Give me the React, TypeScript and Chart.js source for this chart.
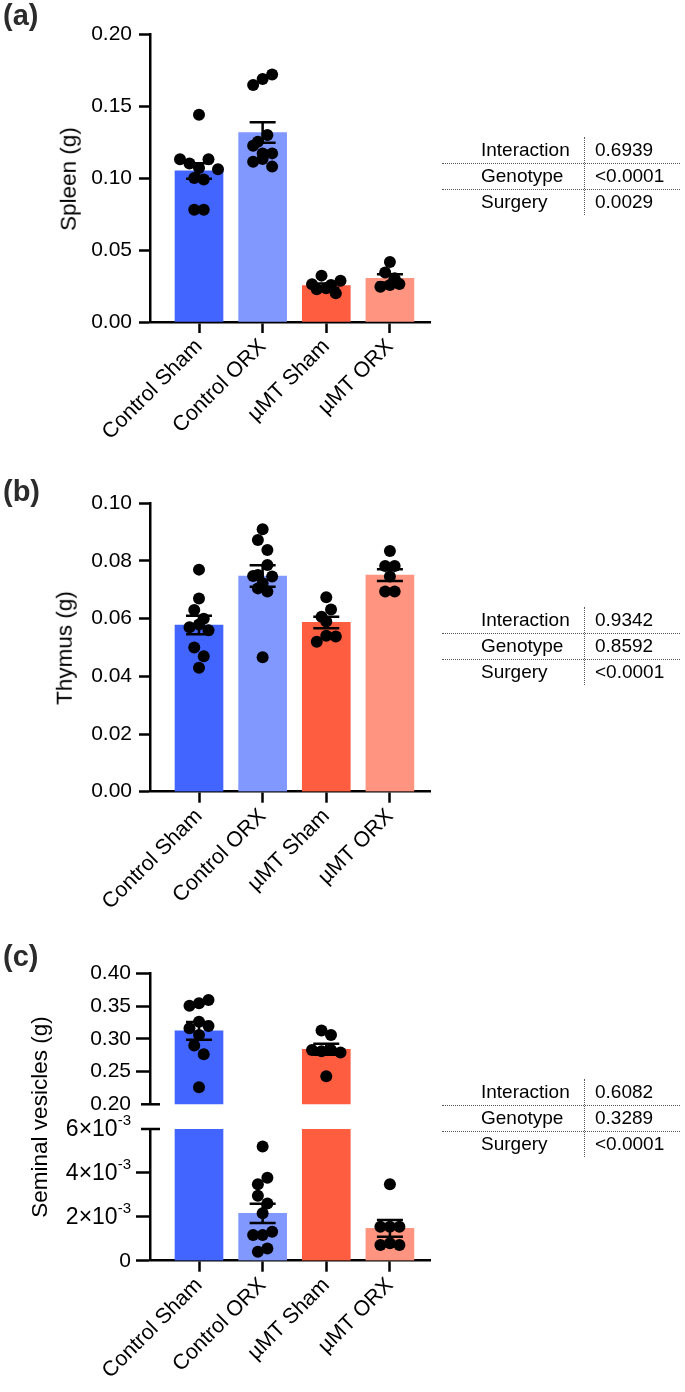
import React, { useEffect, useRef } from "react";
import { Chart, registerables } from "chart.js";
Chart.register(...registerables);

const FONT = "'Liberation Sans', Arial, Helvetica, sans-serif";

const groupLabels = ["Control Sham", "Control ORX", "µMT Sham", "µMT ORX"];
const groupColors = ["#4265FF", "#8098FF", "#FF5D40", "#FF9480"];

// (a) Spleen
const spleenMean = [0.1049, 0.1316, 0.0253, 0.0303];
const spleenSem = [0.0054, 0.0071, 0.0015, 0.0028];
const spleenCtrlSham = [0.144, 0.113, 0.11, 0.107, 0.113, 0.106, 0.1, 0.099, 0.078, 0.078];
const spleenCtrlOrx = [0.1646, 0.1688, 0.1718, 0.1252, 0.1299, 0.1224, 0.1171, 0.1171, 0.1113, 0.1132, 0.1079];
const spleenMuSham = [0.0227, 0.0262, 0.0322, 0.0234, 0.0257, 0.0287, 0.0199];
const spleenMuOrx = [0.0343, 0.0245, 0.0417, 0.0303, 0.0257, 0.0264];
const spleenTicks = [0, 0.05, 0.1, 0.15, 0.2];
const spleenTickLabels = ["0.00", "0.05", "0.10", "0.15", "0.20"];

// (b) Thymus
const thymusMean = [0.0578, 0.0748, 0.0587, 0.0751];
const thymusSem = [0.0032, 0.0037, 0.002, 0.002];
const thymusCtrlSham = [0.077, 0.067, 0.063, 0.06, 0.057, 0.058, 0.056, 0.05, 0.047, 0.043];
const thymusCtrlOrx = [0.091, 0.0873, 0.0838, 0.0751, 0.0786, 0.0748, 0.0723, 0.0746, 0.0705, 0.0694, 0.0466];
const thymusMuSham = [0.0607, 0.0674, 0.0632, 0.059, 0.052, 0.0541, 0.0538];
const thymusMuOrx = [0.0783, 0.0835, 0.0783, 0.0746, 0.0694, 0.0694];
const thymusTicks = [0, 0.02, 0.04, 0.06, 0.08, 0.1];
const thymusTickLabels = ["0.00", "0.02", "0.04", "0.06", "0.08", "0.10"];

// (c) Seminal vesicles (broken axis)
const vesMean = [0.312, 0.00216, 0.284, 0.00147];
const vesSem = [0.0135, 0.00044, 0.0085, 0.00038];
const vesCtrlSham = [0.3506, 0.3542, 0.3593, 0.316, 0.3262, 0.3196, 0.3059, 0.2896, 0.2763, 0.226];
const vesCtrlOrx = [0.00348, 0.0052, 0.00378, 0.00296, 0.00261, 0.00216, 0.00117, 0.00117, 0.00132, 0.00041, 0.00056];
const vesMuSham = [0.3125, 0.3059, 0.283, 0.281, 0.283, 0.279, 0.243];
const vesMuOrx = [0.00348, 0.00155, 0.00155, 0.00155, 0.00071, 0.00079, 0.00071];
const vesUpperTicks = [0.2, 0.25, 0.3, 0.35, 0.4];
const vesUpperTickLabels = ["0.20", "0.25", "0.30", "0.35", "0.40"];
const vesLowerTicks = [0, 0.002, 0.004, 0.006];
const vesLowerTickMantissa = ["0", "2×10", "4×10", "6×10"];
const vesLowerTickExponent = ["", "-3", "-3", "-3"];

// ANOVA tables
const statLabels = ["Interaction", "Genotype", "Surgery"];
const spleenP = ["0.6939", "<0.0001", "0.0029"];
const thymusP = ["0.9342", "0.8592", "<0.0001"];
const vesP = ["0.6082", "0.3289", "<0.0001"];

type PanelCfg = {
  means: number[];
  sems: number[];
  points: number[][];
  yMin: number;
  yMax: number;
  yTicks: number[];
  yTickLabels?: string[];
  yTickMantissa?: string[];
  yTickExponent?: string[];
  showX: boolean;
  width: number;
  height: number;
  padTop: number;
  padBottom: number;
  xHeight: number;
  tickLen: number;
  tickPad: number;
  breakAt?: number;
};

const DOT_R = 6;
const LANE = 9.5;
const ROW_H = 10.5;

function overlayPlugin(cfg: PanelCfg) {
  return {
    id: "overlay",
    afterDatasetsDraw(chart: any) {
      const { ctx, scales } = chart;
      const x = scales.x;
      const y = scales.y;
      ctx.save();
      ctx.fillStyle = "#000";
      cfg.points.forEach((vals, g) => {
        const cx = x.getPixelForValue(g);
        const items = vals
          .map((v, i) => ({ v, i, py: y.getPixelForValue(v) }))
          .filter((p) => p.v >= cfg.yMin && p.v <= cfg.yMax);
        const sorted = [...items].sort((a, b) => a.py - b.py);
        const rows: any[] = [];
        let cur: any = null;
        sorted.forEach((p) => {
          if (!cur || p.py - cur.start >= ROW_H) {
            cur = { start: p.py, pts: [] };
            rows.push(cur);
          }
          cur.pts.push(p);
        });
        rows.forEach((row) => {
          row.pts.sort((a: any, b: any) => a.i - b.i);
          const n = row.pts.length;
          row.pts.forEach((p: any, j: number) => {
            const px = cx + (j - (n - 1) / 2) * LANE;
            ctx.beginPath();
            ctx.arc(px, p.py, DOT_R, 0, Math.PI * 2);
            ctx.fill();
          });
        });
      });
      ctx.strokeStyle = "#000";
      ctx.lineWidth = 2.5;
      cfg.means.forEach((m, g) => {
        if (m < cfg.yMin || m > cfg.yMax) return;
        const cx = x.getPixelForValue(g);
        const t = y.getPixelForValue(m + cfg.sems[g]);
        const b = y.getPixelForValue(m - cfg.sems[g]);
        ctx.beginPath();
        ctx.moveTo(cx, t);
        ctx.lineTo(cx, b);
        ctx.moveTo(cx - 13, t);
        ctx.lineTo(cx + 13, t);
        ctx.moveTo(cx - 13, b);
        ctx.lineTo(cx + 13, b);
        ctx.stroke();
      });
      ctx.restore();
    },
    afterDraw(chart: any) {
      const { ctx, chartArea, scales } = chart;
      const y = scales.y;
      ctx.save();
      if (cfg.breakAt !== undefined) {
        const yy = y.getPixelForValue(cfg.breakAt);
        ctx.strokeStyle = "#000";
        ctx.lineWidth = 2.5;
        ctx.beginPath();
        ctx.moveTo(chartArea.left - 9, yy);
        ctx.lineTo(chartArea.left + 10, yy);
        ctx.stroke();
      }
      if (cfg.yTickMantissa) {
        const xr = chartArea.left - cfg.tickLen - cfg.tickPad;
        ctx.fillStyle = "#000";
        ctx.textBaseline = "middle";
        ctx.textAlign = "left";
        cfg.yTicks.forEach((v, i) => {
          const py = y.getPixelForValue(v);
          const exp = (cfg.yTickExponent && cfg.yTickExponent[i]) || "";
          const mant = cfg.yTickMantissa![i];
          let ew = 0;
          if (exp) {
            ctx.font = `15px ${FONT}`;
            ew = ctx.measureText(exp).width;
            ctx.fillText(exp, xr - ew, py - 8);
            ctx.font = `23px ${FONT}`;
          } else {
            ctx.font = `21px ${FONT}`;
          }
          const mw = ctx.measureText(mant).width;
          ctx.fillText(mant, xr - ew - mw, py + 1);
        });
      }
      ctx.restore();
    },
  };
}

function BarPanel({ cfg, left, top }: { cfg: PanelCfg; left: number; top: number }) {
  const ref = useRef<HTMLCanvasElement | null>(null);
  useEffect(() => {
    if (!ref.current) return;
    const chart = new Chart(ref.current, {
      type: "bar",
      data: {
        datasets: [
          {
            data: cfg.means.map((m, i) => ({ x: i, y: m })),
            backgroundColor: groupColors,
            borderWidth: 0,
            barThickness: 48,
            clip: 0,
          } as any,
        ],
      },
      options: {
        responsive: false,
        animation: false,
        devicePixelRatio: 1,
        layout: { padding: { top: cfg.padTop, right: 30, bottom: cfg.padBottom, left: 0 } },
        plugins: { legend: { display: false }, tooltip: { enabled: false }, title: { display: false } },
        scales: {
          x: {
            type: "linear",
            display: cfg.showX,
            min: -0.77,
            max: 3.63,
            offset: false,
            afterBuildTicks: (s: any) => {
              s.ticks = groupLabels.map((_, i) => ({ value: i }));
            },
            afterFit: (s: any) => {
              s.height = cfg.xHeight;
            },
            ticks: {
              autoSkip: false,
              minRotation: 45,
              maxRotation: 45,
              padding: 1,
              color: "#000",
              font: { family: FONT, size: 21.5 },
              callback: (v: any) => groupLabels[v as number] ?? "",
            },
            grid: {
              offset: false,
              drawOnChartArea: false,
              drawTicks: true,
              tickLength: 11,
              tickWidth: 2.5,
              tickColor: "#000",
              color: "#000",
            },
            border: { display: true, color: "#000", width: 2.5 },
            z: 1,
          } as any,
          y: {
            type: "linear",
            min: cfg.yMin,
            max: cfg.yMax,
            afterBuildTicks: (s: any) => {
              s.ticks = cfg.yTicks.map((v) => ({ value: v }));
            },
            afterFit: (s: any) => {
              s.width = 150;
            },
            ticks: {
              padding: cfg.tickPad,
              color: "#000",
              font: { family: FONT, size: 21 },
              callback: (_v: any, i: number) => (cfg.yTickLabels ? cfg.yTickLabels[i] : ""),
            },
            grid: {
              drawOnChartArea: false,
              drawTicks: true,
              tickLength: cfg.tickLen,
              tickWidth: 2.5,
              tickColor: (c: any) =>
                cfg.breakAt !== undefined && c.tick && c.tick.value === cfg.breakAt ? "rgba(0,0,0,0)" : "#000",
              color: "#000",
            },
            border: { display: true, color: "#000", width: 2.5 },
            z: 1,
          } as any,
        },
      },
      plugins: [overlayPlugin(cfg)],
    });
    return () => chart.destroy();
  }, []);
  return (
    <div style={{ position: "absolute", left, top, width: cfg.width, height: cfg.height }}>
      <canvas ref={ref} width={cfg.width} height={cfg.height} style={{ width: cfg.width, height: cfg.height, display: "block" }} />
    </div>
  );
}

function StatsTable({ top, values }: { top: number; values: string[] }) {
  const rowH = 26;
  return (
    <div style={{ position: "absolute", left: 440, top, width: 240, height: rowH * 3, fontFamily: FONT, fontSize: 19, color: "#000" }}>
      {statLabels.map((lab, i) => (
        <div key={lab} style={{ position: "absolute", left: 0, top: i * rowH, width: 240, height: rowH, lineHeight: rowH + "px", whiteSpace: "nowrap" }}>
          <span style={{ position: "absolute", left: 41 }}>{lab}</span>
          <span style={{ position: "absolute", left: 155 }}>{values[i]}</span>
        </div>
      ))}
      {[1, 2].map((i) => (
        <div key={i} style={{ position: "absolute", left: 2, top: i * rowH, width: 238, height: 0, borderTop: "1px dotted #555" }} />
      ))}
      <div style={{ position: "absolute", left: 144, top: 0, width: 0, height: rowH * 3, borderLeft: "1px dotted #555" }} />
    </div>
  );
}

function YTitle({ text, cx, cy }: { text: string; cx: number; cy: number }) {
  return (
    <div
      style={{
        position: "absolute",
        left: cx,
        top: cy,
        transform: "translate(-50%, -50%) rotate(-90deg)",
        fontFamily: FONT,
        fontSize: 22.5,
        lineHeight: 1,
        whiteSpace: "nowrap",
        color: "#000",
      }}
    >
      {text}
    </div>
  );
}

function Letter({ text, top }: { text: string; top: number }) {
  return (
    <div style={{ position: "absolute", left: 3, top, fontFamily: FONT, fontWeight: "bold", fontSize: 29, lineHeight: 1, color: "#2b2b2b" }}>
      {text}
    </div>
  );
}

const panelA: PanelCfg = {
  means: spleenMean,
  sems: spleenSem,
  points: [spleenCtrlSham, spleenCtrlOrx, spleenMuSham, spleenMuOrx],
  yMin: 0,
  yMax: 0.2,
  yTicks: spleenTicks,
  yTickLabels: spleenTickLabels,
  showX: true,
  width: 460,
  height: 460,
  padTop: 34,
  padBottom: 0,
  xHeight: 138,
  tickLen: 11,
  tickPad: 7,
};

const panelB: PanelCfg = {
  means: thymusMean,
  sems: thymusSem,
  points: [thymusCtrlSham, thymusCtrlOrx, thymusMuSham, thymusMuOrx],
  yMin: 0,
  yMax: 0.1,
  yTicks: thymusTicks,
  yTickLabels: thymusTickLabels,
  showX: true,
  width: 460,
  height: 460,
  padTop: 33.3,
  padBottom: 0,
  xHeight: 138.3,
  tickLen: 11,
  tickPad: 7,
};

const panelCTop: PanelCfg = {
  means: vesMean,
  sems: vesSem,
  points: [vesCtrlSham, [], vesMuSham, []],
  yMin: 0.2,
  yMax: 0.4,
  yTicks: vesUpperTicks,
  yTickLabels: vesUpperTickLabels,
  showX: false,
  width: 460,
  height: 185,
  padTop: 33.3,
  padBottom: 20.7,
  xHeight: 0,
  tickLen: 14,
  tickPad: 5,
  breakAt: 0.2,
};

const panelCBottom: PanelCfg = {
  means: vesMean,
  sems: vesSem,
  points: [[], vesCtrlOrx, [], vesMuOrx],
  yMin: 0,
  yMax: 0.006,
  yTicks: vesLowerTicks,
  yTickMantissa: vesLowerTickMantissa,
  yTickExponent: vesLowerTickExponent,
  showX: true,
  width: 460,
  height: 292,
  padTop: 29,
  padBottom: 0,
  xHeight: 131.3,
  tickLen: 14,
  tickPad: 5,
  breakAt: 0.006,
};

export default function App() {
  return (
    <div style={{ position: "absolute", left: 0, top: 0, width: 685, height: 1392, overflow: "hidden", background: "#fff" }}>
      <BarPanel cfg={panelA} left={0} top={0} />
      <BarPanel cfg={panelB} left={0} top={470} />
      <BarPanel cfg={panelCTop} left={0} top={940} />
      <BarPanel cfg={panelCBottom} left={0} top={1100} />
      <Letter text="(a)" top={1} />
      <Letter text="(b)" top={477} />
      <Letter text="(c)" top={942} />
      <YTitle text="Spleen (g)" cx={69} cy={178.5} />
      <YTitle text="Thymus (g)" cx={64.5} cy={648} />
      <YTitle text="Seminal vesicles (g)" cx={40} cy={1116.5} />
      <StatsTable top={137} values={spleenP} />
      <StatsTable top={607} values={thymusP} />
      <StatsTable top={1079} values={vesP} />
    </div>
  );
}
